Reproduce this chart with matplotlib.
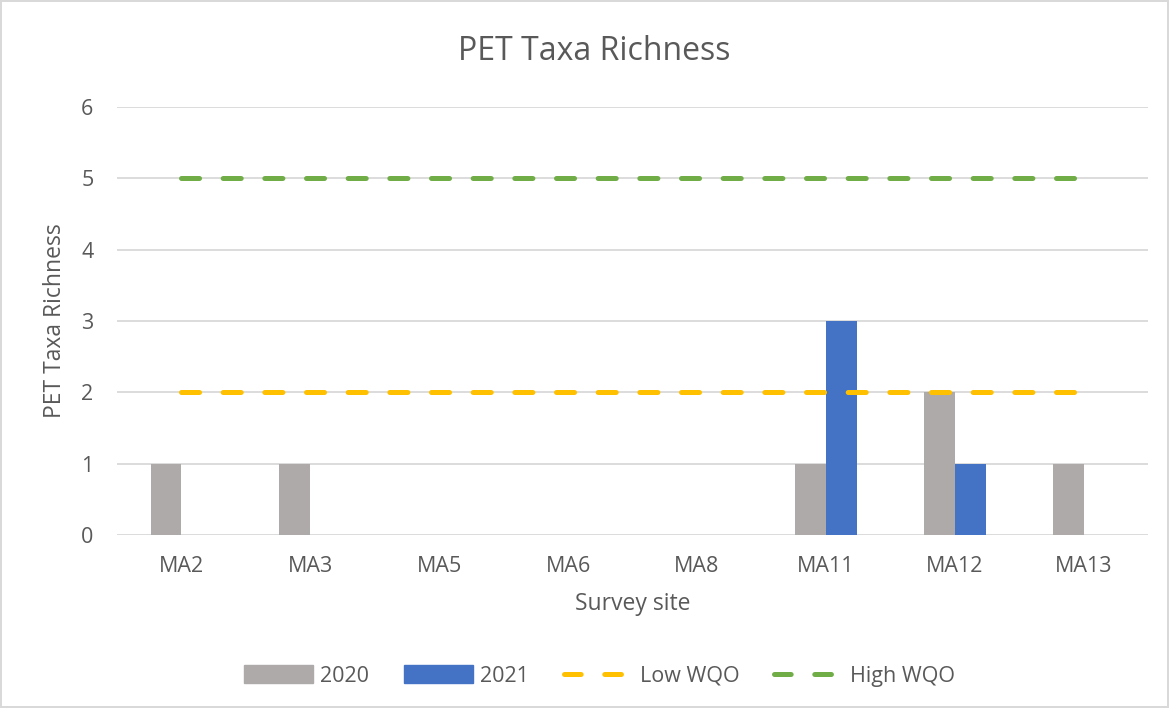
import numpy as np
import matplotlib.pyplot as plt
from matplotlib.lines import Line2D
from matplotlib.patches import Patch

plt.rcParams['font.family'] = ['Open Sans', 'DejaVu Sans']
plt.rcParams['lines.scale_dashes'] = False

# data
sites = ['MA2', 'MA3', 'MA5', 'MA6', 'MA8', 'MA11', 'MA12', 'MA13']
rich_2020 = [1, 1, 0, 0, 0, 1, 2, 1]
rich_2021 = [0, 0, 0, 0, 0, 3, 1, 0]
low_wqo = [2, 2, 2, 2, 2, 2, 2, 2]
high_wqo = [5, 5, 5, 5, 5, 5, 5, 5]

grey = '#aeaaaa'
blue = '#4472c4'
yellow = '#ffc000'
green = '#70ad47'
txt = '#595959'

fig = plt.figure(figsize=(11.69, 7.08), dpi=100)
fig.patch.set_edgecolor('#d9d9d9')
fig.patch.set_linewidth(1.5)
ax = fig.add_axes([117 / 1169, 1 - 535 / 708, 1031 / 1169, 428 / 708])

x = np.arange(len(sites))
w = 0.24
ax.bar(x - w / 2, rich_2020, w, color=grey, zorder=2)
ax.bar(x + w / 2, rich_2021, w, color=blue, zorder=2)
ax.plot(x, low_wqo, color=yellow, lw=3.6, dashes=(13, 17),
        dash_capstyle='round', zorder=3)
ax.plot(x, high_wqo, color=green, lw=3.6, dashes=(13, 17),
        dash_capstyle='round', zorder=3)

ax.set_xlim(-0.5, len(sites) - 0.5)
ax.set_ylim(0, 6)
ax.set_xticks(x)
ax.set_xticklabels(sites)
ax.set_yticks(range(7))
ax.grid(axis='y', color='#d9d9d9', lw=1.3, zorder=0)
for s in ['top', 'right', 'left', 'bottom']:
    ax.spines[s].set_visible(False)
ax.tick_params(length=0, labelsize=15.5, labelcolor=txt)
ax.tick_params(axis='x', pad=15)
ax.tick_params(axis='y', pad=17)

ax.set_xlabel('Survey site', fontsize=16.5, color=txt, labelpad=11)
ax.set_ylabel('PET Taxa Richness', fontsize=16.5, color=txt, labelpad=10)
fig.text(0.508, 1 - 52 / 708, 'PET Taxa Richness', ha='center', va='center',
         fontsize=23, color=txt)

handles = [
    Patch(color=grey, label='2020'),
    Patch(color=blue, label='2021'),
    Line2D([], [], color=yellow, lw=3.6, dashes=(12, 17), dash_capstyle='round', label='Low WQO'),
    Line2D([], [], color=green, lw=3.6, dashes=(12, 17), dash_capstyle='round', label='High WQO'),
]
leg = fig.legend(handles=handles, loc='center', bbox_to_anchor=(0.513, 1 - 676 / 708),
                 ncol=4, frameon=False, fontsize=15.5, handlelength=3.2,
                 handleheight=0.85, columnspacing=1.6, handletextpad=0.35)
for t in leg.get_texts():
    t.set_color(txt)

fig.savefig('out.png', dpi=100)
